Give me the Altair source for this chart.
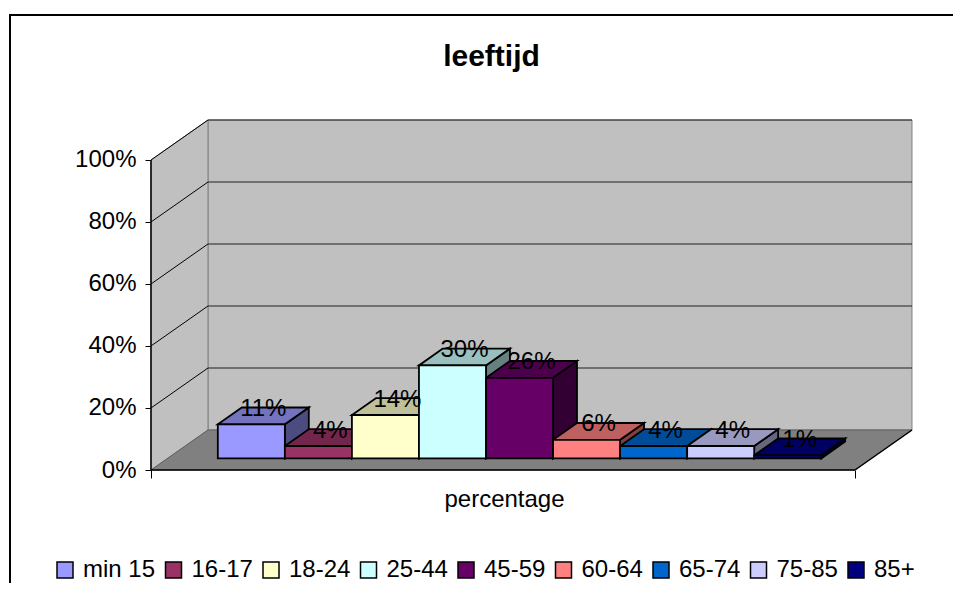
import altair as alt
import pandas as pd

# ---------------- data ----------------
categories = ["min 15", "16-17", "18-24", "25-44", "45-59", "60-64", "65-74", "75-85", "85+"]
values = [11, 4, 14, 30, 26, 6, 4, 4, 1]
colors = ["#9999FF", "#993366", "#FFFFCC", "#CCFFFF", "#660066", "#FF8080", "#0066CC", "#CCCCFF", "#000080"]
y_ticks = [0, 20, 40, 60, 80, 100]
title_text = "leeftijd"
x_title = "percentage"

# ---------------- oblique 3D projection parameters ----------------
FLOOR = 10.5          # floor length in bar-width units
X0 = 0.75             # gap before first bar
DX, DY = 0.85, 12.9   # full-depth shift (x units, percent units)
D0, D1 = 0.29, 0.71   # depth range of the bars
XMAX = 11.365
YMAX = 100 + DY
FONT = "Liberation Sans"


def shade(hex_color, f):
    h = hex_color.lstrip("#")
    r, g, b = (int(h[k:k + 2], 16) for k in (0, 2, 4))
    return "#%02x%02x%02x" % (round(r * f), round(g * f), round(b * f))


xs = alt.Scale(domain=[0, XMAX], nice=False, zero=False)
ys = alt.Scale(domain=[0, YMAX], nice=False, zero=False)

y_axis = alt.Axis(values=y_ticks, labelExpr="datum.value + '%'", domain=False, grid=False,
                  tickSize=6, tickColor="black", tickWidth=1, labelFontSize=24, labelFont=FONT,
                  labelColor="black", labelPadding=9, title=None)
x_axis = alt.Axis(values=[0, FLOOR], labels=False, domain=False, grid=False, tickSize=8,
                  tickColor="black", tickWidth=1, title=x_title, titleX=353, titleY=36,
                  titleBaseline="alphabetic", titleAlign="center", titleFontSize=24, titleFont=FONT,
                  titleFontWeight="normal", titleColor="black")


def X(f):
    return alt.X(f, type="quantitative", scale=xs, axis=x_axis)


def Y(f):
    return alt.Y(f, type="quantitative", scale=ys, axis=y_axis)


# ---------------- walls / floor ----------------
back_df = pd.DataFrame([{"x": DX, "x2": DX + FLOOR, "y": DY, "y2": 100 + DY}])
side_wall_df = pd.DataFrame([
    {"x": 0.0, "y": 0.0, "y2": 100.0},
    {"x": DX, "y": DY, "y2": 100 + DY},
])
floor_df = pd.DataFrame([
    {"y": 0.0, "x": 0.0, "x2": FLOOR},
    {"y": DY, "x": DX, "x2": DX + FLOOR},
])
grid_back_df = pd.DataFrame([{"x": DX, "x2": DX + FLOOR, "y": v + DY, "y2": v + DY} for v in y_ticks[1:]])
grid_side_df = pd.DataFrame([{"x": 0.0, "x2": DX, "y": float(v), "y2": v + DY} for v in y_ticks[1:]])
edges_df = pd.DataFrame([
    {"x": 0.0, "x2": 0.0, "y": 0.0, "y2": 100.0},          # value axis line
    {"x": 0.0, "x2": FLOOR, "y": 0.0, "y2": 0.0},          # category axis line
    {"x": FLOOR, "x2": FLOOR + DX, "y": 0.0, "y2": DY},    # floor right edge
])

# ---------------- bars ----------------
front_rows, top_rows, side_rows, label_rows = [], [], [], []
for i, (c, v, col) in enumerate(zip(categories, values, colors)):
    u0 = X0 + i
    u1 = u0 + 1
    front_rows.append({"cat": c, "i": i, "x": u0 + D0 * DX, "x2": u1 + D0 * DX,
                       "y": D0 * DY, "y2": v + D0 * DY})
    tc = shade(col, 0.75)
    top_rows += [
        {"i": i, "fill": tc, "y": v + D0 * DY, "x": u0 + D0 * DX, "x2": u1 + D0 * DX},
        {"i": i, "fill": tc, "y": v + D1 * DY, "x": u0 + D1 * DX, "x2": u1 + D1 * DX},
    ]
    sc = shade(col, 0.5)
    side_rows += [
        {"i": i, "fill": sc, "x": u1 + D0 * DX, "y": D0 * DY, "y2": v + D0 * DY},
        {"i": i, "fill": sc, "x": u1 + D1 * DX, "y": D1 * DY, "y2": v + D1 * DY},
    ]
    dm = (D0 + D1) / 2
    label_rows.append({"t": f"{v}%", "x": (u0 + u1) / 2 + dm * DX, "y": v + dm * DY})

front_df = pd.DataFrame(front_rows)
top_df = pd.DataFrame(top_rows)
side_df = pd.DataFrame(side_rows)
label_df = pd.DataFrame(label_rows)

back = alt.Chart(back_df).mark_rect(fill="#C0C0C0", stroke="#808080", strokeWidth=1).encode(
    x=X("x"), x2="x2", y=Y("y"), y2="y2")

side_wall = alt.Chart(side_wall_df).mark_area(orient="vertical", fill="#C0C0C0", stroke="#808080",
                                              strokeWidth=1).encode(x=X("x"), y=Y("y"), y2="y2")

floor = alt.Chart(floor_df).mark_area(orient="horizontal", fill="#808080", stroke="#606060",
                                      strokeWidth=1).encode(y=Y("y"), x=X("x"), x2="x2")

grid_back = alt.Chart(grid_back_df).mark_rule(color="#202020", strokeWidth=1).encode(
    x=X("x"), x2="x2", y=Y("y"), y2="y2")
grid_side = alt.Chart(grid_side_df).mark_rule(color="black", strokeWidth=1).encode(
    x=X("x"), x2="x2", y=Y("y"), y2="y2")
edges = alt.Chart(edges_df).mark_rule(color="black", strokeWidth=1.5).encode(
    x=X("x"), x2="x2", y=Y("y"), y2="y2")

sides = alt.Chart(side_df).mark_area(orient="vertical", stroke="black", strokeWidth=1.8).encode(
    x=X("x"), y=Y("y"), y2="y2", detail="i:O", fill=alt.Fill("fill:N", scale=None))
tops = alt.Chart(top_df).mark_area(orient="horizontal", stroke="black", strokeWidth=1.8).encode(
    y=Y("y"), x=X("x"), x2="x2", detail="i:O", fill=alt.Fill("fill:N", scale=None))

legend = alt.Legend(title=None, orient="none", legendX=-98, legendY=438, direction="horizontal",
                    columns=9, symbolType="square", symbolSize=256, symbolStrokeColor="black",
                    symbolStrokeWidth=1.5, symbolOpacity=1, labelFontSize=24, labelFont=FONT,
                    labelColor="black", labelOffset=6, columnPadding=5.5, padding=0, labelLimit=0)
fronts = alt.Chart(front_df).mark_rect(stroke="black", strokeWidth=1.8, opacity=1).encode(
    x=X("x"), x2="x2", y=Y("y"), y2="y2",
    fill=alt.Fill("cat:N", scale=alt.Scale(domain=categories, range=colors), legend=legend,
                  sort=categories))

labels = alt.Chart(label_df).mark_text(fontSize=24, font=FONT, color="black", align="center",
                                       baseline="alphabetic").encode(
    x=X("x"), y=Y("y"), text="t:N")

title = alt.Chart(pd.DataFrame({"t": [title_text]})).mark_text(
    fontSize=30, fontWeight="bold", font=FONT, color="black", align="center",
    baseline="alphabetic").encode(text="t:N", x=alt.value(340.5), y=alt.value(-54))

frame = alt.Chart(pd.DataFrame({"k": [0]})).mark_rect(fill="transparent", stroke="black",
                                                     strokeWidth=2).encode(
    x=alt.value(-141), x2=alt.value(900), y=alt.value(-105), y2=alt.value(700))

chart = alt.layer(frame, back, side_wall, floor, grid_back, grid_side, edges,
                  sides, tops, fronts, labels, title).properties(
    width=762, height=350,
    autosize=alt.AutoSizeParams(type="none"),
    padding={"left": 143, "top": 112, "right": 40, "bottom": 113},
    background="white",
).configure_view(stroke=None)

chart.save("out.html", embed_options={"renderer": "svg", "actions": False})
